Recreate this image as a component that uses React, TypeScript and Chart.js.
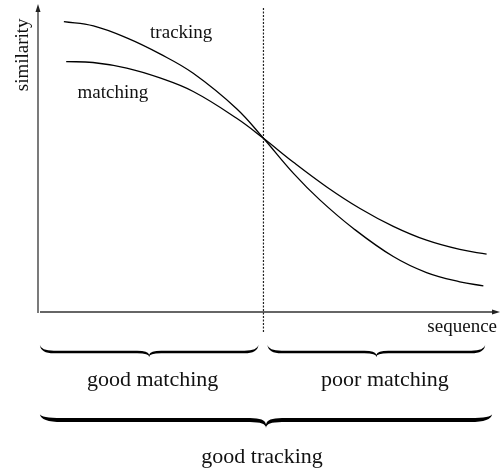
import React, { useEffect, useRef } from "react";
import { Chart, registerables } from "chart.js";

Chart.register(...registerables);

// Values (x: % of sequence axis, y: % of similarity axis)
const trackingX = [5.6, 12.0, 19.2, 26.4, 33.6, 43.0, 48.8, 55.3, 61.0, 68.2, 76.9, 84.1, 91.3, 96.4];
const trackingY = [94.3, 92.9, 89.0, 83.8, 77.5, 66.0, 56.4, 45.0, 36.4, 27.2, 18.0, 12.8, 9.8, 8.5];
const matchingX = [6.1, 11.9, 19.2, 26.4, 33.6, 43.0, 48.8, 55.3, 62.5, 69.7, 76.9, 84.1, 91.3, 97.1];
const matchingY = [81.3, 81.0, 79.2, 76.0, 71.6, 62.9, 56.4, 48.6, 40.6, 33.6, 27.8, 23.3, 20.3, 18.8];

const seriesNames = ["tracking", "matching"];
const axisTitles = ["sequence", "similarity"];
const regionLabels = ["good matching", "poor matching"];
const overallLabel = "good tracking";
const dividerX = 48.8;
const dividerSpan = [98.7, -6.5];

const SERIF = '"Liberation Serif", "Times New Roman", "DejaVu Serif", serif';

function drawBrace(
  ctx: CanvasRenderingContext2D,
  x1: number,
  x2: number,
  y0: number,
  yL: number,
  yT: number,
  t: number,
  r: number,
  rt: number
) {
  const xm = (x1 + x2) / 2;
  const up = yL - t / 2;
  const lo = yL + t / 2;
  ctx.beginPath();
  ctx.moveTo(x1, y0);
  ctx.quadraticCurveTo(x1 + 1, up, x1 + r, up);
  ctx.lineTo(xm - rt, up);
  ctx.quadraticCurveTo(xm - 1, up, xm, yT - t * 0.9);
  ctx.quadraticCurveTo(xm + 1, up, xm + rt, up);
  ctx.lineTo(x2 - r, up);
  ctx.quadraticCurveTo(x2 - 1, up, x2, y0);
  ctx.quadraticCurveTo(x2 - 1, lo, x2 - r, lo);
  ctx.lineTo(xm + rt, lo);
  ctx.quadraticCurveTo(xm, lo, xm, yT);
  ctx.quadraticCurveTo(xm, lo, xm - rt, lo);
  ctx.lineTo(x1 + r, lo);
  ctx.quadraticCurveTo(x1 + 1, lo, x1, y0);
  ctx.closePath();
  ctx.fill();
}

const overlayPlugin = {
  id: "overlay",
  afterDatasetsDraw(chart: any) {
    const { ctx, chartArea: a, scales } = chart;
    const xs = scales.x;
    const ys = scales.y;
    ctx.save();

    // axes with arrows
    ctx.strokeStyle = "#333";
    ctx.fillStyle = "#222";
    ctx.lineWidth = 1.3;
    ctx.beginPath();
    ctx.moveTo(a.left, a.bottom + 1);
    ctx.lineTo(a.left, a.top + 5);
    ctx.stroke();
    ctx.beginPath();
    ctx.moveTo(a.left, a.top);
    ctx.lineTo(a.left - 2.5, a.top + 8);
    ctx.lineTo(a.left + 2.5, a.top + 8);
    ctx.closePath();
    ctx.fill();

    ctx.beginPath();
    ctx.moveTo(a.left + 2, a.bottom);
    ctx.lineTo(a.right - 5, a.bottom);
    ctx.stroke();
    ctx.beginPath();
    ctx.moveTo(a.right, a.bottom);
    ctx.lineTo(a.right - 8, a.bottom - 2.5);
    ctx.lineTo(a.right - 8, a.bottom + 2.5);
    ctx.closePath();
    ctx.fill();

    // text
    ctx.fillStyle = "#111";
    ctx.font = `19px ${SERIF}`;
    ctx.textAlign = "center";
    ctx.textBaseline = "alphabetic";
    ctx.fillText(seriesNames[0], xs.getPixelForValue(31.0), ys.getPixelForValue(89.0));
    ctx.fillText(seriesNames[1], xs.getPixelForValue(16.2), ys.getPixelForValue(69.5));

    ctx.textAlign = "right";
    ctx.fillText(axisTitles[0], a.right - 3, a.bottom + 20);

    ctx.save();
    ctx.translate(a.left - 15, ys.getPixelForValue(83.5));
    ctx.rotate(-Math.PI / 2);
    ctx.textAlign = "center";
    ctx.textBaseline = "middle";
    ctx.fillText(axisTitles[1], 0, 0);
    ctx.restore();

    // braces
    ctx.fillStyle = "#000";
    const b = a.bottom;
    const xl = xs.getPixelForValue(0.4);
    const xd = xs.getPixelForValue(dividerX);
    drawBrace(ctx, xl, xd - 5, b + 33, b + 40, b + 45, 2.6, 14, 12);
    drawBrace(ctx, xd + 4, xs.getPixelForValue(96.8), b + 33, b + 40, b + 45, 2.6, 14, 12);
    drawBrace(ctx, xl, xs.getPixelForValue(98.3), b + 102, b + 108, b + 116, 4, 22, 16);

    ctx.fillStyle = "#111";
    ctx.font = `22px ${SERIF}`;
    ctx.textAlign = "center";
    ctx.fillText(regionLabels[0], xs.getPixelForValue(24.8), b + 74);
    ctx.fillText(regionLabels[1], xs.getPixelForValue(75.1), b + 74);
    ctx.fillText(overallLabel, xs.getPixelForValue(48.5), b + 151);

    ctx.restore();
  },
};

export default function App() {
  const ref = useRef<HTMLCanvasElement | null>(null);

  useEffect(() => {
    if (!ref.current) return;
    const chart = new Chart(ref.current, {
      type: "line",
      data: {
        datasets: [
          {
            label: seriesNames[0],
            data: trackingX.map((x, i) => ({ x, y: trackingY[i] })),
            borderColor: "#000",
            borderWidth: 1.3,
            pointRadius: 0,
            tension: 0.4,
            fill: false,
          },
          {
            label: seriesNames[1],
            data: matchingX.map((x, i) => ({ x, y: matchingY[i] })),
            borderColor: "#000",
            borderWidth: 1.3,
            pointRadius: 0,
            tension: 0.4,
            fill: false,
          },
          {
            label: "divider",
            data: dividerSpan.map((y) => ({ x: dividerX, y })),
            borderColor: "#222",
            borderWidth: 1.2,
            borderDash: [2, 1.5],
            pointRadius: 0,
            fill: false,
            clip: false as any,
          },
        ],
      },
      options: {
        animation: false,
        responsive: false,
        events: [],
        layout: { padding: { left: 38, right: 1, top: 4, bottom: 157 } },
        plugins: { legend: { display: false }, tooltip: { enabled: false } },
        scales: {
          x: { type: "linear", min: 0, max: 100, display: false },
          y: { type: "linear", min: 0, max: 100, display: false },
        },
      },
      plugins: [overlayPlugin],
    });
    return () => chart.destroy();
  }, []);

  return (
    <div style={{ position: "fixed", left: 0, top: 0, width: 501, height: 469, background: "#fff" }}>
      <canvas ref={ref} width={501} height={469} style={{ display: "block" }} />
    </div>
  );
}
